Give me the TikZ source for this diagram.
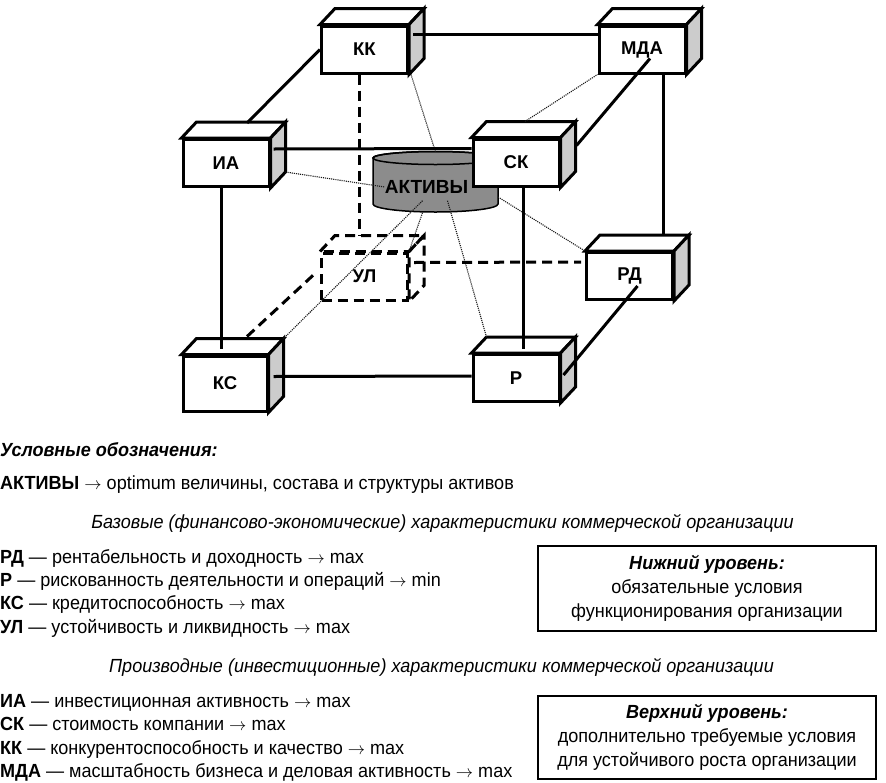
\documentclass[tikz,border=0pt]{standalone}
\usepackage{fontspec}
\setmainfont{Liberation Sans}
\newfontfamily\narrowsans{Liberation Sans}[FakeStretch=0.95]
\usetikzlibrary{calc}
\definecolor{sidegray}{gray}{0.8}
\definecolor{cylgray}{gray}{0.55}

\newcommand{\sides}[2][]{%
  \draw[boxline,fill=white,#1] (#2.north west) -- ++(15,-16) -- ([shift={(15,-16)}]#2.north east) -- (#2.north east) -- cycle;
  \draw[boxline,fill=sidegray,#1] (#2.north east) -- ++(15,-16) -- ([shift={(15,-16)}]#2.south east) -- (#2.south east) -- cycle;}

\begin{document}
\begin{tikzpicture}[x=1pt, y=-1pt,
  box/.style={draw, line width=3pt, fill=white, minimum width=86pt, minimum height=47pt, inner sep=0pt, font=\fontsize{18.5}{20}\selectfont\bfseries},
  boxline/.style={line width=3pt},
  conn/.style={line width=3pt},
  dsh/.style={dash pattern=on 10pt off 6pt},
  faint/.style={densely dotted, line width=1.1pt, black!90},
  txt/.style={anchor=base west, inner sep=0pt, font=\narrowsans\fontsize{19}{24}\selectfont},
  legbox/.style={draw, line width=1.2pt, minimum width=338pt, align=center, inner sep=0pt, font=\narrowsans\fontsize{19}{24}\selectfont}]
  \useasboundingbox (0,0) rectangle (886,782);

  \filldraw[fill=cylgray, line width=1.5pt] (373,158) -- (373,204) arc[start angle=180, end angle=360, x radius=62.5pt, y radius=8pt] -- (498,158) arc[start angle=0, end angle=180, x radius=62.5pt, y radius=6.5pt] -- cycle;
  \draw[line width=1.5pt] (435.5,158) ellipse[x radius=62.5pt, y radius=6.5pt];
  \coordinate (cyltop) at (435.5,152);
  \coordinate (cylright) at (498,197);
  \node[inner sep=0pt, font=\fontsize{19}{20}\selectfont\bfseries] (AKT) at (426.5,187) {АКТИВЫ};

  \node[box] (KK) at (364.5,49.5) {КК}; \sides{KK}
  \node[box] (MDA) at (642,49.5) {МДА}; \sides{MDA}
  \node[box] (IA) at (226,163) {ИА}; \sides{IA}
  \node[box] (SK) at (516,162.5) {СК}; \sides{SK}
  \node[box] (RD) at (629.5,276) {РД}; \sides{RD}
  \node[box] (P) at (516,378) {Р}; \sides{P}
  \node[box, minimum width=84pt, minimum height=55pt] (KS) at (225,383.5) {КС}; \sides{KS}
  \node[box, dsh, fill=none] (UL) at (364.5,276.5) {УЛ}; \sides[dsh,fill=none]{UL}

  \draw[faint] ([shift={(2,0)}]KK.south east) -- (cyltop);
  \draw[faint] ([shift={(15,-16)}]IA.south east) -- (AKT.west);
  \draw[faint] ([shift={(9,-16)}]SK.north) -- (MDA.south west);
  \draw[faint] (cylright) -- (RD.north west);
  \draw[faint] ([shift={(21,7)}]AKT.south) -- ([shift={(15,-16)}]P.north west);
  \draw[faint] ([shift={(-4,7)}]AKT.south) -- ([shift={(15,-16)}]KS.north east);
  \draw[faint] ([shift={(-4,19)}]AKT.south) -- (UL.north east);

  \draw[conn] ([shift={(4,-15)}]KK.east) -- ([shift={(0,-15)}]MDA.west);
  \draw[conn] ([shift={(21,-15)}]IA.north) -- (KK.west);
  \draw[conn] ([shift={(3,-14)}]IA.east) -- ([shift={(0,-14)}]SK.west);
  \draw[conn] ([shift={(16,-17)}]SK.east) -- ([shift={(8,9)}]MDA.center);
  \draw[conn] ([shift={(-5,0)}]IA.south) -- ([shift={(-4,-6)}]KS.north);
  \draw[conn] ([shift={(7,0)}]SK.south) -- ([shift={(7,-4)}]P.north);
  \draw[conn] ([shift={(21,0)}]MDA.south) -- ([shift={(33.5,-16)}]RD.north);
  \draw[conn] ([shift={(5,-7)}]KS.east) -- ([shift={(0,-2)}]P.west);
  \draw[conn] ([shift={(8,10)}]RD.center) -- ([shift={(3,-3)}]P.east);
  \draw[conn,dsh] ([shift={(-5.5,0)}]KK.south) -- ([shift={(-5.5,-16)}]UL.north);
  \draw[conn,dsh] ([shift={(5,-14)}]UL.east) -- ([shift={(-4,-14)}]RD.west);
  \draw[conn,dsh] ([shift={(22,-18)}]KS.north) -- ([shift={(-5,-3)}]UL.west);

  \node[txt] (legend) at (0,456) {\textbf{\textit{Условные обозначения:}}};
  \node[txt] (aktdef) at (0,489) {\textbf{АКТИВЫ} $\to$ optimum величины, состава и структуры активов};
  \node[txt, anchor=base] (base) at (442.5,528) {\textit{Базовые (финансово-экономические) характеристики коммерческой организации}};
  \node[txt] (rddef) at (0,563) {\textbf{РД} — рентабельность и доходность $\to$ max};
  \node[txt] (pdef) at (0,586) {\textbf{Р} — рискованность деятельности и операций $\to$ min};
  \node[txt] (ksdef) at (0,609) {\textbf{КС} — кредитоспособность $\to$ max};
  \node[txt] (uldef) at (0,633) {\textbf{УЛ} — устойчивость и ликвидность $\to$ max};
  \node[txt, anchor=base] (deriv) at (441.5,672) {\textit{Производные (инвестиционные) характеристики коммерческой организации}};
  \node[txt] (iadef) at (0,707) {\textbf{ИА} — инвестиционная активность $\to$ max};
  \node[txt] (skdef) at (0,730) {\textbf{СК} — стоимость компании $\to$ max};
  \node[txt] (kkdef) at (0,754) {\textbf{КК} — конкурентоспособность и качество $\to$ max};
  \node[txt] (mdadef) at (0,777) {\textbf{МДА} — масштабность бизнеса и деловая активность $\to$ max};

  \node[legbox, minimum height=85pt] (low) at (707,588.5) {\textbf{\textit{Нижний уровень:}}\\обязательные условия\\функционирования организации};
  \node[legbox, minimum height=83pt] (up) at (707,737.5) {\textbf{\textit{Верхний уровень:}}\\дополнительно требуемые условия\\для устойчивого роста организации};
\end{tikzpicture}
\end{document}
